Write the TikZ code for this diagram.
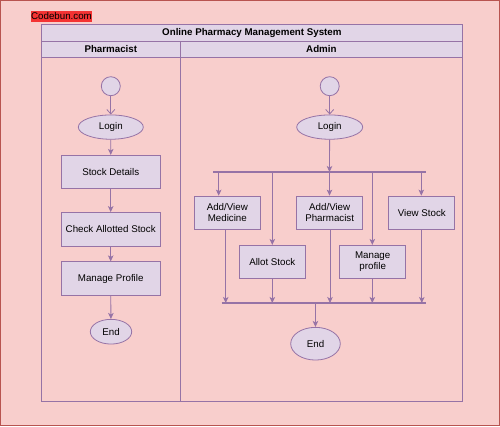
\documentclass[tikz,border=0pt]{standalone}
\usepackage{fontspec}
\setmainfont{Liberation Sans}
\usetikzlibrary{arrows.meta,shapes.geometric}
\definecolor{bgpink}{HTML}{F8CECC}
\definecolor{bgred}{HTML}{B85450}
\definecolor{lav}{HTML}{E1D5E7}
\definecolor{purp}{HTML}{9673A6}
\definecolor{cbred}{HTML}{F43333}
\begin{document}
\begin{tikzpicture}[x=1pt,y=-1pt,font=\fontsize{9.75}{11.2}\selectfont,
  box/.style={draw=purp,fill=lav,line width=0.8pt,rectangle,inner sep=0pt,align=center},
  pbox/.style={box,minimum width=99pt,minimum height=33.4pt},
  abox/.style={box,minimum width=66pt,minimum height=33.3pt},
  oval/.style={draw=purp,fill=lav,line width=0.8pt,ellipse,inner sep=0pt},
  startc/.style={draw=purp,fill=lav,line width=0.8pt,circle,inner sep=0pt,minimum size=19pt},
  arr/.style={draw=purp,line width=0.8pt,-{Stealth[length=6pt,width=5.5pt,inset=1.5pt]}},
  oarr/.style={draw=purp,line width=0.8pt,-{Straight Barb[length=4.5pt,width=8pt]}},
  bar/.style={draw=purp,line width=1.6pt},
  lane/.style={draw=purp,line width=0.8pt}]
\useasboundingbox (0,0) rectangle (500,426);
% background
\draw[fill=bgpink,draw=bgred,line width=0.8pt] (0.5,0.5) rectangle (499.5,425.5);
% watermark
\node[fill=cbred,inner sep=0pt,minimum width=61pt,minimum height=11pt,text=black] (wm) at (61.5,16.5) {Codebun.com};
% pool
\draw[lane,fill=lav] (41.3,24.3) rectangle (462.5,41.3);
\draw[lane,fill=lav] (41.3,41.3) rectangle (462.5,57.3);
\draw[lane] (41.3,57.3) rectangle (462.5,401);
\draw[lane] (180.3,41.3) -- (180.3,401);
\node[font=\fontsize{9.75}{11.2}\selectfont\bfseries] (title) at (251.9,32.8) {Online Pharmacy Management System};
\node[font=\fontsize{9.75}{11.2}\selectfont\bfseries] (lp) at (110.8,49.3) {Pharmacist};
\node[font=\fontsize{9.75}{11.2}\selectfont\bfseries] (la) at (321.4,49.3) {Admin};
% Pharmacist lane
\node[startc] (ps) at (110.8,86.2) {};
\node[oval,minimum width=65pt,minimum height=24.3pt] (plogin) at (110.8,127.1) {Login};
\node[pbox] (stock) at (110.7,172) {Stock Details};
\node[pbox] (check) at (110.7,229.2) {Check Allotted Stock};
\node[pbox] (mprof) at (110.7,278.5) {Manage Profile};
\node[oval,minimum width=41.4pt,minimum height=24.7pt] (pend) at (111,331.7) {End};
\draw[oarr] (ps) -- (plogin);
\draw[arr] (plogin) -- (stock);
\draw[arr] (stock) -- (check);
\draw[arr] (check) -- (mprof);
\draw[arr] (mprof) -- (pend);
% Admin lane
\node[startc] (as) at (329.7,86.2) {};
\node[oval,minimum width=66pt,minimum height=24.3pt] (alogin) at (329.7,127.1) {Login};
\coordinate (fl) at (213.3,172);
\coordinate (fr) at (425.7,172);
\coordinate (fc) at (329.5,172);
\draw[bar] (fl) -- (fr);
\draw[oarr] (as) -- (alogin);
\draw[arr] (alogin) -- (fc);
\node[abox] (amed) at (227.3,212.7) {Add/View\\Medicine};
\node[abox] (aphar) at (329.7,212.7) {Add/View\\Pharmacist};
\node[abox] (avs) at (421.8,212.7) {View Stock};
\node[abox] (aallot) at (272.3,262) {Allot Stock};
\node[abox] (amp) at (372.7,262) {Manage\\profile};
\coordinate (f1) at (218.7,172);
\coordinate (f2) at (272.3,172);
\coordinate (f3) at (329.5,172);
\coordinate (f4) at (372.3,172);
\coordinate (f5) at (421.3,172);
\draw[arr] (f1) -- (f1 |- amed.north);
\draw[arr] (f2) -- (f2 |- aallot.north);
\draw[arr] (f3) -- (f3 |- aphar.north);
\draw[arr] (f4) -- (f4 |- amp.north);
\draw[arr] (f5) -- (f5 |- avs.north);
\coordinate (jl) at (221.7,303);
\coordinate (jr) at (425.7,303);
\draw[bar] (jl) -- (jr);
\coordinate (j1) at (225.7,303);
\coordinate (j2) at (272.3,303);
\coordinate (j3) at (330,303);
\coordinate (j4) at (372.3,303);
\coordinate (j5) at (421.8,303);
\coordinate (jc) at (315.4,303);
\draw[arr] (j1 |- amed.south) -- (j1);
\draw[arr] (j2 |- aallot.south) -- (j2);
\draw[arr] (j3 |- aphar.south) -- (j3);
\draw[arr] (j4 |- amp.south) -- (j4);
\draw[arr] (j5 |- avs.south) -- (j5);
\node[oval,minimum width=49.6pt,minimum height=32.7pt] (aend) at (315.5,343.7) {End};
\draw[arr] (jc) -- (aend);
\end{tikzpicture}
\end{document}
